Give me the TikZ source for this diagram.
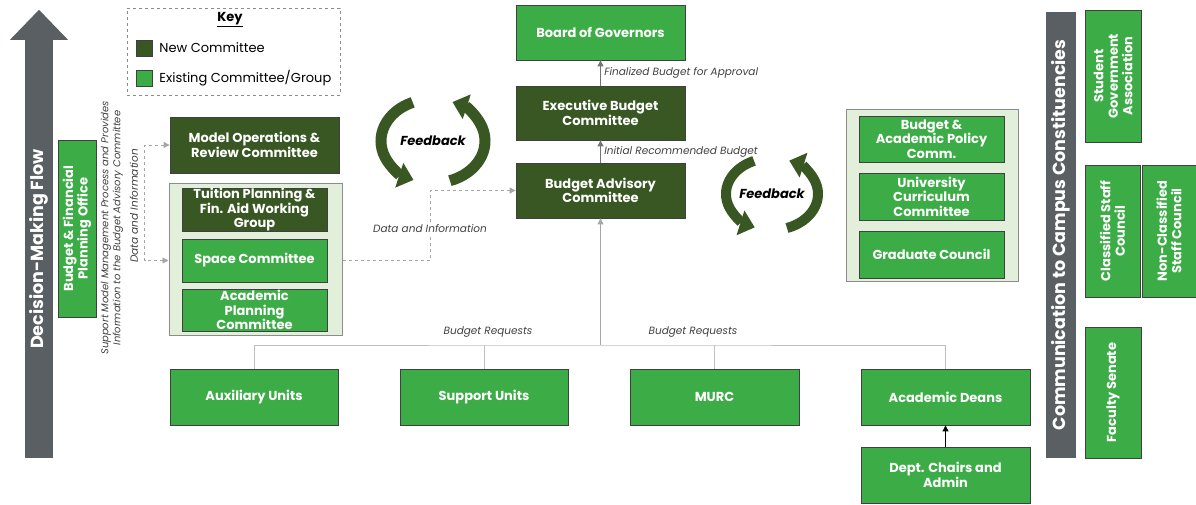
\documentclass[tikz,border=0pt]{standalone}
\usepackage{fontspec}
\setmainfont{Poppins}
\usetikzlibrary{arrows.meta,positioning}

\definecolor{newgreen}{HTML}{385723}
\definecolor{oldgreen}{HTML}{3CAD46}
\definecolor{panelgreen}{HTML}{E2EFDA}
\definecolor{flowgray}{HTML}{595F63}

\begin{document}
\begin{tikzpicture}[x=1pt,y=-1pt]
  \tikzstyle{Box}=[draw=black!75,line width=0.8pt,text=white,align=center,inner xsep=2pt,inner ysep=0pt,
                   font=\fontsize{13}{14.5}\selectfont\bfseries]
  \tikzstyle{NewBox}=[Box,fill=newgreen]
  \tikzstyle{OldBox}=[Box,fill=oldgreen]
  \tikzstyle{Panel}=[draw=black!45,line width=1pt,fill=panelgreen]
  \tikzstyle{Bar}=[fill=flowgray,text=white,inner sep=0pt,font=\fontsize{17.5}{19}\selectfont\bfseries]
  \tikzstyle{Note}=[font=\fontsize{10.5}{12.5}\selectfont\itshape,text=black!75,align=center]
  \tikzstyle{Flow}=[draw=black!55,line width=0.9pt,-{Triangle[length=6pt,width=6pt]}]
  \tikzstyle{Data}=[draw=black!35,dashed,line width=0.9pt]
  \tikzstyle{Tree}=[draw=black!25,line width=1pt]
  \tikzstyle{Loop}=[draw=newgreen,fill=none,line width=11pt,-{Triangle[length=15pt,width=25pt]}]
  \useasboundingbox (0,0) rectangle (1196,505);

  % decision-making arrow on the left
  \node[Bar,rotate=90,minimum width=418,minimum height=28] (flow) at (39,249) {Decision-Making Flow};
  \fill[flowgray] ([xshift=-29pt]flow.east) -- ([xshift=29pt]flow.east) -- ([yshift=30pt]flow.east) -- cycle;
  \node[OldBox,rotate=90,minimum width=177,minimum height=38] (bfpo) at (77,228.5)
    {Budget \& Financial\\Planning Office};
  \node[Note,rotate=90,font=\fontsize{10}{12}\selectfont\itshape] (bfponote) at (112,228)
    {Support Model Management Process and Provides\\Information to the Budget Advisory Committee};

  % key
  \node[draw=black!45,dashed,line width=0.8pt,minimum width=213,minimum height=87] (key) at (233.5,51.5) {};
  \node[font=\fontsize{13}{14}\selectfont\bfseries] (keytitle) at (230,20) {\underline{Key}};
  \node[NewBox,minimum size=16,inner sep=0pt] (keynew) at (144.5,48) {};
  \node[OldBox,minimum size=16,inner sep=0pt] (keyold) at (144.5,78) {};
  \node[right=3pt of keynew,font=\fontsize{13}{14}\selectfont] (keynewtext) {New Committee};
  \node[right=3pt of keyold,font=\fontsize{13}{14}\selectfont] (keyoldtext) {Existing Committee/Group};

  % left committees
  \node[NewBox,minimum width=169,minimum height=56] (modelops) at (254.5,145)
    {Model Operations \&\\Review Committee};
  \node[Panel,minimum width=173,minimum height=151] (leftpanel) at (255.5,259.5) {};
  \node[NewBox,minimum width=145,minimum height=42] (tuition) at (254.5,210)
    {Tuition Planning \&\\Fin. Aid Working\\Group};
  \node[OldBox,minimum width=145,minimum height=43] (space) at (254.5,260.5) {Space Committee};
  \node[OldBox,minimum width=145,minimum height=42] (acadplan) at (254.5,310)
    {Academic\\Planning\\Committee};

  \draw[Data,{Triangle[length=6pt,width=6pt]}-{Triangle[length=6pt,width=6pt]}]
    (modelops.west) -- ++(-25,0) |- (leftpanel.west |- space);
  \node[Note,rotate=90] (datanote1) at (134,206) {Data and Information};

  % main approval chain
  \node[OldBox,minimum width=169,minimum height=55] (bog) at (600.5,32.5) {Board of Governors};
  \node[NewBox,minimum width=169,minimum height=54] (exec) at (600.5,113) {Executive Budget\\Committee};
  \node[NewBox,minimum width=169,minimum height=55] (bac) at (600.5,190.5) {Budget Advisory\\Committee};
  \draw[Flow] (exec.north) -- (bog.south) node[Note,midway,right=0pt] {Finalized Budget for Approval};
  \draw[Flow] (bac.north) -- (exec.south) node[Note,midway,right=0pt] {Initial Recommended Budget};

  \draw[Data,-{Triangle[length=6pt,width=6pt]}] (leftpanel.east |- space) -- (430,260.5) |- (bac.west);
  \node[Note,fill=white,inner sep=1pt] (datanote2) at (430,229) {Data and Information};

  % feedback loops
  \node[font=\fontsize{13}{14}\selectfont\bfseries\itshape] (fbleft) at (433,141) {Feedback};
  \draw[Loop] ([shift={(-113:52 and 42)}]fbleft.center) arc[start angle=-113,end angle=-248,x radius=52,y radius=42];
  \draw[Loop] ([shift={(71:52 and 42)}]fbleft.center) arc[start angle=71,end angle=-68,x radius=52,y radius=42];
  \node[font=\fontsize{13}{14}\selectfont\bfseries\itshape] (fbright) at (772,194) {Feedback};
  \draw[Loop,line width=10pt] ([shift={(-113:46 and 36)}]fbright.center) arc[start angle=-113,end angle=-248,x radius=46,y radius=36];
  \draw[Loop,line width=10pt] ([shift={(71:46 and 36)}]fbright.center) arc[start angle=71,end angle=-68,x radius=46,y radius=36];

  % academic committees
  \node[Panel,minimum width=172,minimum height=171] (rightpanel) at (932,195.5) {};
  \node[OldBox,minimum width=145,minimum height=46] (policy) at (931.5,139) {Budget \&\\Academic Policy\\Comm.};
  \node[OldBox,minimum width=145,minimum height=47] (curric) at (931.5,196.5) {University\\Curriculum\\Committee};
  \node[OldBox,minimum width=145,minimum height=47] (gradcouncil) at (931.5,254.5) {Graduate Council};

  % budget requests
  \node[OldBox,minimum width=168,minimum height=56] (aux) at (254,397) {Auxiliary Units};
  \node[OldBox,minimum width=168,minimum height=56] (support) at (484,397) {Support Units};
  \node[OldBox,minimum width=169,minimum height=56] (murc) at (714.5,397) {MURC};
  \node[OldBox,minimum width=169,minimum height=56] (deans) at (945.5,397) {Academic Deans};
  \node[OldBox,minimum width=169,minimum height=56] (chairs) at (945.5,475) {Dept. Chairs and\\Admin};
  \coordinate (requests) at (600.5,345);
  \draw[Tree] (aux.north) |- (requests) -| (deans.north);
  \draw[Tree] (support.north) -- (support.north |- requests);
  \draw[Tree] (murc.north) -- (murc.north |- requests);
  \draw[Flow,draw=black!35] (requests) -- (bac.south);
  \draw[Flow,draw=black] (chairs.north) -- (deans.south);
  \node[Note] at (488,332) {Budget Requests};
  \node[Note] at (693,332) {Budget Requests};

  % campus constituencies
  \node[Bar,rotate=90,minimum width=446,minimum height=30] (comm) at (1061,235) {Communication to Campus Constituencies};
  \node[OldBox,rotate=90,minimum width=132,minimum height=56] (sga) at (1113,76) {Student\\Government\\Association};
  \node[OldBox,rotate=90,minimum width=132,minimum height=55] (classified) at (1112.5,231) {Classified Staff\\Council};
  \node[OldBox,rotate=90,minimum width=132,minimum height=54] (nonclassified) at (1169,231) {Non-Classified\\Staff Council};
  \node[OldBox,rotate=90,minimum width=131,minimum height=56] (senate) at (1113,392.5) {Faculty Senate};
\end{tikzpicture}
\end{document}
